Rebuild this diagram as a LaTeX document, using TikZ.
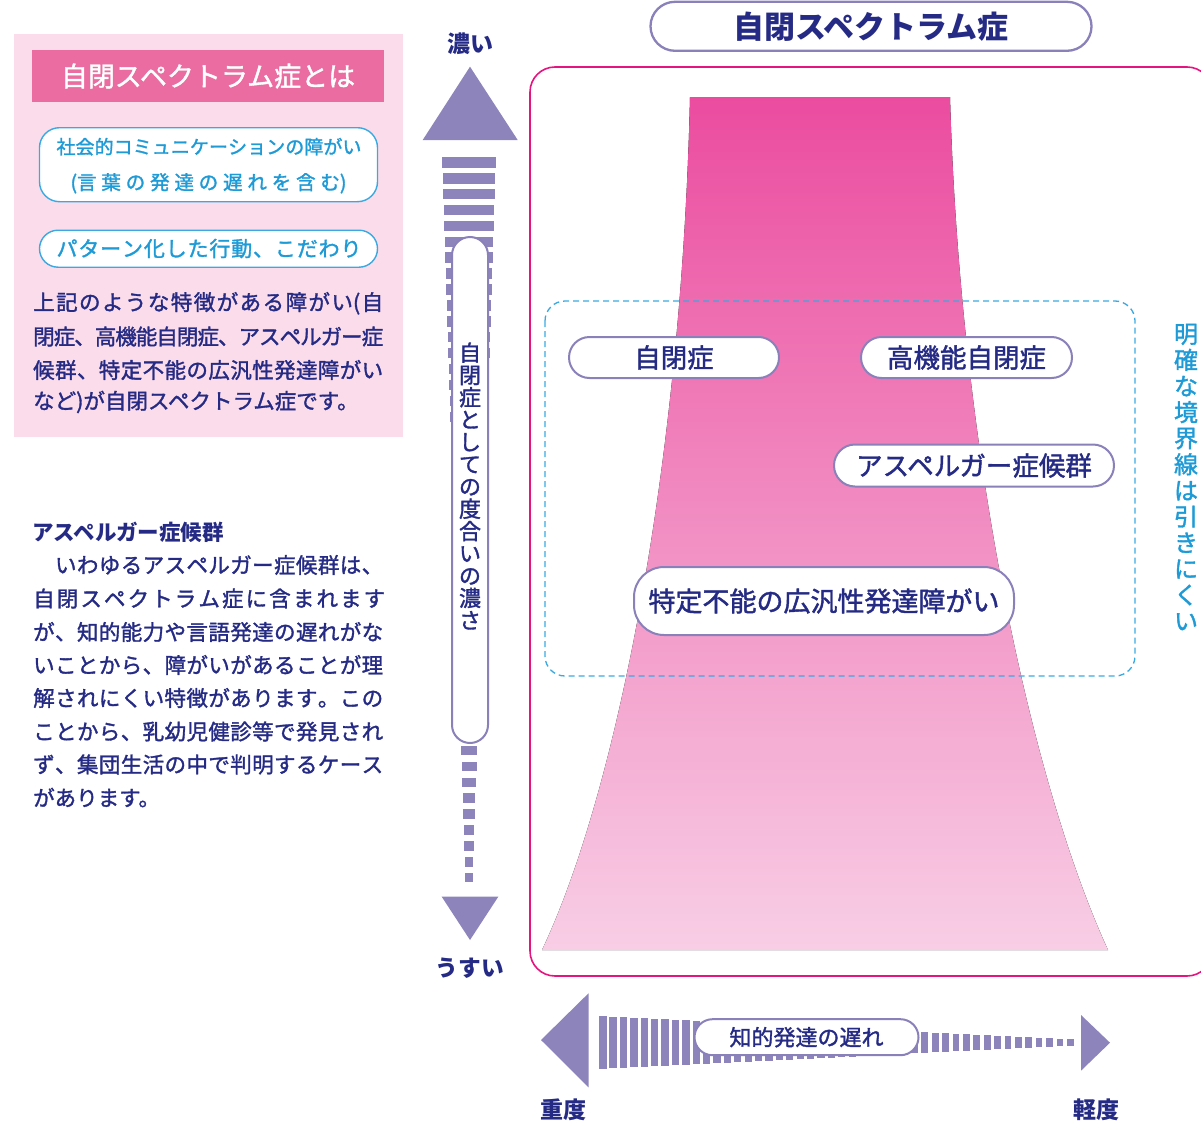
\documentclass[tikz,border=0pt]{standalone}
\usepackage{fontspec}
\setmainfont{Noto Sans CJK JP}
\newfontfamily\medfont{Noto Sans CJK JP}[FakeBold=1.5]
\definecolor{navy}{HTML}{252B84}
\definecolor{skyb}{HTML}{1E9AD6}
\definecolor{skyline}{HTML}{3AA9E2}
\definecolor{lilac}{HTML}{8E84BC}
\definecolor{capline}{HTML}{8A80BA}
\definecolor{magframe}{HTML}{E5157F}
\definecolor{pinkbg}{HTML}{FBDCEA}
\definecolor{pinkhead}{HTML}{EB6CA0}
\definecolor{funtop}{HTML}{EB4C9F}
\definecolor{funbot}{HTML}{F8CEE5}
\newcommand\fsz[1]{\fontsize{#1pt}{#1pt}\selectfont}
\makeatletter
\newcommand\spreadline[2]{\hbox to #1{\let\sp@sep\relax\@tfor\sp@c:=#2\do{\sp@sep\sp@c\def\sp@sep{\hskip 0pt plus 1fill minus 1.2pt}}}}
\makeatother
\begin{document}
\begin{tikzpicture}[x=1pt,y=-1pt,
  capsule/.style={draw=capline, line width=2pt, fill=white, inner sep=0pt, text=navy},
  bluebox/.style={draw=skyline, line width=1.4pt, fill=white, inner sep=0pt, text=skyb},
  para/.style={anchor=west, inner sep=0pt, text=navy, font=\medfont\fsz{21.5}},
  arrowc/.style={fill=lilac}]
\useasboundingbox (0,0) rectangle (1201,1124);

% ---------- left pink panel ----------
\node[fill=pinkbg, minimum width=389pt, minimum height=403pt, inner sep=0pt] (panel) at (208.5,235.5) {};
\node[fill=pinkhead, minimum width=352pt, minimum height=51.5pt, inner sep=0pt, text=white, font=\medfont\fsz{27}] (head) at (208,76) {自閉スペクトラム症とは};
\node[bluebox, rounded corners=20pt, minimum width=338pt, minimum height=74pt] (b1) at (208.5,164.7) {};
\node[inner sep=0pt, text=skyb, font=\medfont\fsz{19}] (b1l1) at (209,146.7) {\spreadline{305pt}{社会的コミュニケーションの障がい}};
\node[inner sep=0pt, text=skyb, font=\medfont\fsz{19.5}] (b1l2) at (208.5,183.3) {\spreadline{276pt}{{(言}葉の発達の遅れを含{む)}}};
\node[bluebox, rounded corners=18.5pt, minimum width=338pt, minimum height=37pt] (b2) at (208.5,248.7) {};
\node[inner sep=0pt, text=skyb, font=\medfont\fsz{21}] (b2t) at (209,248.5) {\spreadline{305pt}{パターン化した行動、こだわり}};

\node[para] (p1) at (33,303.3) {\spreadline{350pt}{上記のような特徴がある障が{い(}自}};
\node[para] (p2) at (33,336.5) {\spreadline{350pt}{閉症、高機能自閉症、アスペルガー症}};
\node[para] (p3) at (33,370) {\spreadline{350pt}{候群、特定不能の広汎性発達障がい}};
\node[para] (p4) at (33,402) {など)が自閉スペクトラム症です。};

% ---------- lower left text ----------
\node[para, font=\fsz{21.5}\bfseries] (ah) at (32,532) {アスペルガー症候群};
\node[para] (a1) at (33,565) {\spreadline{350pt}{　いわゆるアスペルガー症候群は、}};
\node[para] (a2) at (33,598.5) {\spreadline{352pt}{自閉スペクトラム症に含まれます}};
\node[para] (a3) at (33,632) {\spreadline{350pt}{が、知的能力や言語発達の遅れがな}};
\node[para] (a4) at (33,665) {\spreadline{350pt}{いことから、障がいがあることが理}};
\node[para] (a5) at (33,698) {\spreadline{350pt}{解されにくい特徴があります。この}};
\node[para] (a6) at (33,731.5) {\spreadline{350pt}{ことから、乳幼児健診等で発見され}};
\node[para] (a7) at (33,764.5) {\spreadline{350pt}{ず、集団生活の中で判明するケース}};
\node[para] (a8) at (33,797.5) {があります。};

% ---------- vertical arrow ----------
\node[inner sep=0pt, text=navy, font=\fsz{23}\bfseries] (koi) at (470,44) {濃い};
\fill[arrowc] (470,66.7) -- (517.7,140) -- (422.7,140) -- cycle;
\foreach \i in {0,...,45}{
  \pgfmathsetmacro\yy{157+15.91*\i}
  \pgfmathsetmacro\ww{54-0.0645*(\yy-157)}
  \pgfmathsetmacro\hh{10.7-0.027*\i}
  \fill[arrowc] ({469-\ww/2},\yy) rectangle ({469+\ww/2},{\yy+\hh});
}
\fill[arrowc] (441.7,896.7) -- (498.3,896.7) -- (470,940) -- cycle;
\node[inner sep=0pt, text=navy, font=\fsz{22.7}\bfseries] (usui) at (470,968) {うすい};
\node[capsule, minimum width=36pt, minimum height=506pt, rounded corners=18pt] (vcap) at (470,490) {};
\node[inner sep=0pt, text=navy, align=center, font=\medfont\fontsize{22pt}{22.3pt}\selectfont] (vtxt) at (470,486)
  {自\\閉\\症\\と\\し\\て\\の\\度\\合\\い\\の\\濃\\さ};

% ---------- right diagram ----------
\node[draw=capline, line width=2.3pt, fill=white, minimum width=441pt, minimum height=49pt, rounded corners=24.5pt, inner sep=0pt, text=navy, font=\fsz{31}\bfseries] (title) at (871,26.3) {自閉スペクトラム症};
\draw[magframe, line width=1.6pt, rounded corners=25pt] (530,67) rectangle (1212,976);
\fill[top color=funtop, bottom color=funbot] (690,97) -- (950,97) .. controls (960,450) and (1030,780) .. (1108,950) -- (542,950) .. controls (620,785) and (682,450) .. (690,97) -- cycle;
\draw[skyline, line width=1.3pt, dash pattern=on 6pt off 4pt, rounded corners=20pt] (545,301) rectangle (1135,676);

\node[capsule, minimum width=210pt, minimum height=41pt, rounded corners=20.5pt, font=\medfont\fsz{26.5}] (autism) at (674,357.5) {自閉症};
\node[capsule, minimum width=211pt, minimum height=41pt, rounded corners=20.5pt, font=\medfont\fsz{26.5}] (hfa) at (966.5,357.5) {高機能自閉症};
\node[capsule, minimum width=280pt, minimum height=42pt, rounded corners=21pt, font=\medfont\fsz{26.5}] (asp) at (974,465.5) {アスペルガー症候群};
\node[capsule, minimum width=380pt, minimum height=68pt, rounded corners=30pt, font=\medfont\fsz{27}] (pdd) at (824,601) {特定不能の広汎性発達障がい};

\node[inner sep=0pt, text=skyb, align=center, font=\medfont\fontsize{24pt}{26.1pt}\selectfont] (border) at (1186,477)
  {明\\確\\な\\境\\界\\線\\は\\引\\き\\に\\く\\い};

% ---------- horizontal arrow ----------
\fill[arrowc] (541,1040) -- (588.5,993.3) -- (588.5,1087.3) -- cycle;
\foreach \i in {0,...,45}{
  \pgfmathsetmacro\xx{599+10.4*\i}
  \pgfmathsetmacro\hh{53-0.1*(\xx-599)}
  \pgfmathsetmacro\sw{7.6-0.024*\i}
  \fill[arrowc] (\xx,{1042.5-\hh/2}) rectangle ({\xx+\sw},{1042.5+\hh/2});
}
\fill[arrowc] (1081,1015) -- (1110,1042.7) -- (1081,1070.7) -- cycle;
\node[capsule, minimum width=224pt, minimum height=36pt, rounded corners=18pt, font=\medfont\fsz{22}] (delay) at (806.5,1037.2) {知的発達の遅れ};
\node[inner sep=0pt, text=navy, font=\fsz{23}\bfseries] (heavy) at (563,1110) {重度};
\node[inner sep=0pt, text=navy, font=\fsz{23}\bfseries] (light) at (1096,1110) {軽度};
\end{tikzpicture}
\end{document}
